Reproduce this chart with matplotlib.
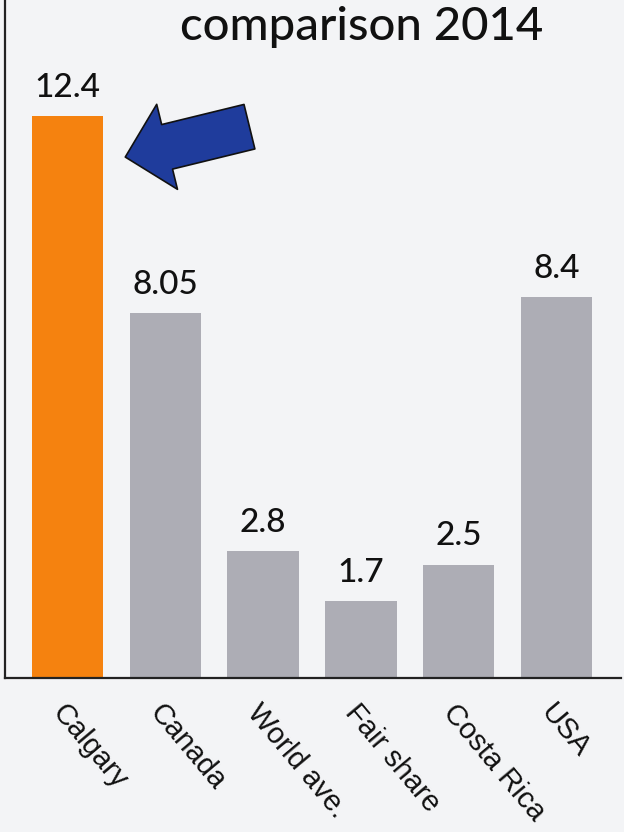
import matplotlib.pyplot as plt

# per-capita figures, tonnes
places = ["Calgary", "Canada", "World ave.", "Fair share", "Costa Rica", "USA"]
values = [12.4, 8.05, 2.8, 1.7, 2.5, 8.4]
value_labels = ["12.4", "8.05", "2.8", "1.7", "2.5", "8.4"]
bar_colors = ["#f5820f", "#adadb5", "#adadb5", "#adadb5", "#adadb5", "#adadb5"]

bg = "#f3f4f6"
fig = plt.figure(figsize=(6.24, 8.32), dpi=100, facecolor=bg)
ax = fig.add_axes([5 / 624, 1 - 678 / 832, 616 / 624, 678 / 832])
ax.set_facecolor(bg)

x = list(range(len(places)))
ax.bar(x, values, width=0.73, color=bar_colors, zorder=2)
ax.set_xlim(-0.64, 5.66)
ax.set_ylim(0, 678 / 45.3)

for xi, v, lab in zip(x, values, value_labels):
    ax.annotate(lab, (xi, v), xytext=(0, 14), textcoords="offset points",
                ha="center", va="baseline", fontsize=24, family="Lato",
                fontweight="medium", color="#111111")

ax.set_xticks(x)
ax.set_xticklabels(places, rotation=-50, ha="left", va="top",
                   rotation_mode="anchor", fontsize=21,
                   family="Liberation Sans", color="#111111")
ax.tick_params(axis="x", length=0, pad=15)
ax.set_yticks([])
for s in ["top", "right"]:
    ax.spines[s].set_visible(False)
for s in ["left", "bottom"]:
    ax.spines[s].set_linewidth(1.6)
    ax.spines[s].set_color("#222222")

# pointer at the Calgary bar
ax.annotate("", xy=(0.59, 11.5), xytext=(1.86, 12.17),
            arrowprops=dict(arrowstyle="simple,head_width=63,head_length=31,tail_width=33",
                            mutation_scale=1, fc="#1f3c9c", ec="#111111", lw=1.2,
                            shrinkA=0, shrinkB=0))

fig.text(362 / 624, 1 - 27 / 832, "comparison 2014", ha="center", va="center",
         fontsize=34, family="Lato", fontweight="medium", color="#111111")

fig.savefig("out.png", dpi=100, facecolor=bg)
